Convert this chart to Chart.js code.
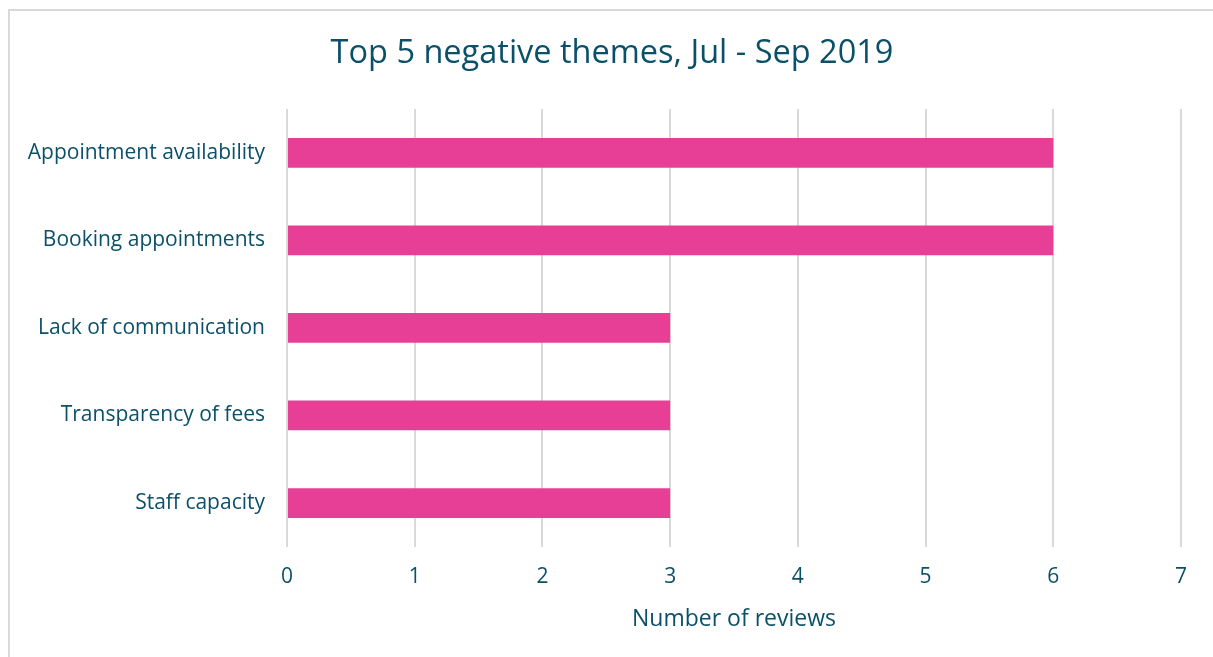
<!DOCTYPE html>
<html>
<head>
<meta charset="utf-8">
<script src="https://cdn.jsdelivr.net/npm/chart.js@4"></script>
<style>
  html, body { margin: 0; padding: 0; background: #fff; overflow: hidden; }
  #frame { position: absolute; left: 8px; top: 9px; width: 1300px; height: 700px; border: 2px solid #d9d9d9; box-sizing: border-box; }
  #chart { position: absolute; left: 0; top: 0; }
</style>
</head>
<body>
<div id="frame"></div>
<canvas id="chart" width="1213" height="657"></canvas>
<script>
var themes = ["Appointment availability", "Booking appointments", "Lack of communication", "Transparency of fees", "Staff capacity"];
var reviews = [6, 6, 3, 3, 3];
var xMax = 7;

var textColor = '#0b5069';
var ctx = document.getElementById('chart').getContext('2d');
var chart = new Chart(ctx, {
    type: 'bar',
    data: {
        labels: themes,
        datasets: [{
            label: 'Number of reviews',
            data: reviews,
            backgroundColor: '#e83f96',
            borderWidth: 0,
            barPercentage: 0.34,
            categoryPercentage: 1
        }]
    },
    options: {
        indexAxis: 'y',
        responsive: false,
        animation: false,
        layout: { padding: { left: 43, right: 32, top: 0, bottom: 26 } },
        plugins: {
            legend: { display: false },
            tooltip: { enabled: false },
            title: {
                display: true,
                text: 'Top 5 negative themes, Jul - Sep 2019',
                color: textColor,
                font: { family: 'Open Sans', size: 32.5, weight: 'normal' },
                padding: { top: 34, bottom: 36 }
            }
        },
        scales: {
            x: {
                min: 0,
                max: xMax,
                ticks: {
                    stepSize: 1,
                    color: textColor,
                    padding: 18,
                    font: { family: 'Open Sans', size: 21 }
                },
                grid: { color: '#d9d9d9', lineWidth: 2, drawTicks: false },
                border: { display: false },
                title: {
                    display: true,
                    text: 'Number of reviews',
                    color: textColor,
                    font: { family: 'Open Sans', size: 23, lineHeight: 1 },
                    padding: 0
                }
            },
            y: {
                ticks: {
                    color: textColor,
                    padding: 22,
                    font: { family: 'Open Sans', size: 21 }
                },
                grid: { display: false, drawTicks: false },
                border: { display: false },
                afterFit: function (scale) {
                    scale.width = 244;
                    // long labels run past the left padding, don't clip them
                    scale._computeLabelArea = function () { return undefined; };
                }
            }
        }
    }
});
</script>
</body>
</html>
